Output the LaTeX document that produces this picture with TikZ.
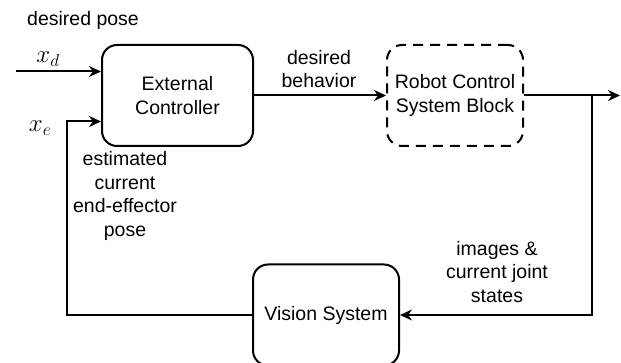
\documentclass[tikz,border=0pt]{standalone}
\usepackage{fontspec}
\setmainfont{Liberation Sans}
\usetikzlibrary{arrows.meta}
\newcommand\diagfont{\fontsize{19.5}{23.7}\selectfont}
\newcommand\symfont{\fontsize{25}{29}\selectfont}
\begin{document}
\begin{tikzpicture}[x=1pt,y=-1pt,
  block/.style={draw, line width=2pt, rounded corners=15pt, align=center,
    inner sep=0pt, minimum height=101pt, font=\diagfont},
  dashedblock/.style={block, dash pattern=on 10pt off 7pt},
  lbl/.style={align=center, inner sep=0pt, font=\diagfont},
  sym/.style={inner sep=0pt, font=\symfont},
  arr/.style={line width=2pt, -{Stealth[length=12pt,width=11pt]}}]
\useasboundingbox (0,0) rectangle (621,363);

% blocks
\node[block, minimum width=151pt] (ec) at (177.5,95.5) {External\\Controller};
\node[dashedblock, minimum width=136pt] (rc) at (455,95.5) {Robot Control\\System Block};
\node[block, minimum width=146pt] (vs) at (326,315) {Vision System};

% signal labels
\node[lbl] (dp) at (83,20) {desired pose};
\node[sym] (xd) at (48,59) {$x_d$};
\node[sym] (xe) at (40,128) {$x_e$};
\node[lbl] (db) at (319,69) {desired\\behavior};
\node[lbl] (est) at (125,196) {estimated\\current\\end-effector\\pose};
\node[lbl] (img) at (497,272) {images \&\\current joint\\states};

% free ends and corners
\coordinate (xdin) at (16,71.5);
\coordinate (fb) at (67,121.5);
\coordinate (tap) at (592,95.5);
\coordinate (out) at (620,95.5);

% connectors
\draw[arr] (xdin) -- (ec.west |- xdin);
\draw[arr] (vs.west) -| (fb) -- (ec.west |- fb);
\draw[arr] (ec.east) -- (rc.west);
\draw[arr] (rc.east) -- (out);
\draw[arr] (tap) |- (vs.east);
\end{tikzpicture}
\end{document}
